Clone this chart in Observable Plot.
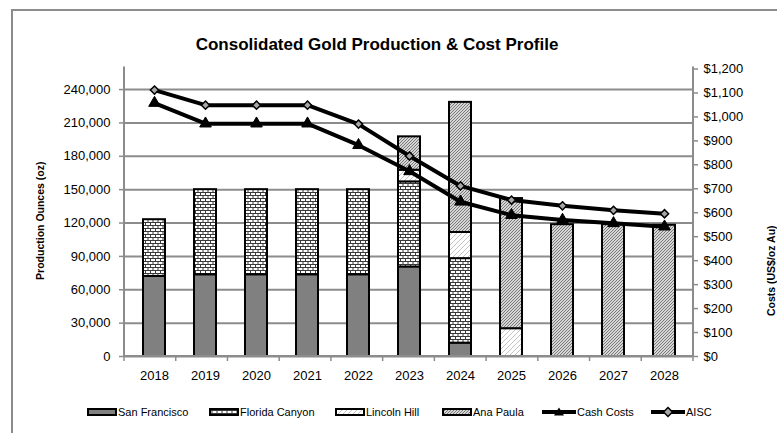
<!DOCTYPE html>
<html><head><meta charset="utf-8">
<script src="https://cdn.jsdelivr.net/npm/d3@7"></script>
<script src="https://cdn.jsdelivr.net/npm/@observablehq/plot@0.6"></script>
<style>
body{margin:0;background:#fff;}
#wrap{position:relative;width:777px;height:433px;overflow:hidden;font-family:"Liberation Sans",Arial,sans-serif;background:#fff;}
#border{position:absolute;left:11px;top:9px;width:900px;height:600px;border:2px solid #8c8c8c;box-sizing:border-box;}
#chart{position:absolute;left:0;top:0;}
.li{position:absolute;top:405px;height:14px;display:flex;align-items:center;font-size:11px;color:#000;white-space:nowrap;}
.li svg{display:block;margin-right:1px;}
</style></head>
<body>
<svg width="0" height="0" style="position:absolute">
  <defs>
    <pattern id="fcPat" patternUnits="userSpaceOnUse" width="5" height="6">
      <rect width="5" height="6" fill="#fff"/>
      <path d="M0 0.5H5M0 3.5H5M0.5 0V3M3 3V6" stroke="#3a3a3a" stroke-width="1" fill="none"/>
    </pattern>
    <pattern id="lhPat" patternUnits="userSpaceOnUse" width="5" height="5">
      <rect width="5" height="5" fill="#fff"/>
      <path d="M0 5L5 0M-1 1L1 -1M4 6L6 4" stroke="#c4c4c4" stroke-width="1" fill="none"/>
    </pattern>
    <pattern id="apPat" patternUnits="userSpaceOnUse" width="3" height="3">
      <rect width="3" height="3" fill="#d6d6d6"/>
      <path d="M0 3L3 0M-1 1L1 -1M2 4L4 2" stroke="#6e6e6e" stroke-width="0.9" fill="none"/>
    </pattern>
  </defs>
</svg>
<div id="wrap"><div id="border"></div><div id="chart"></div><div id="legend"></div></div>
<script>
// ---- data ----
const years = ["2018","2019","2020","2021","2022","2023","2024","2025","2026","2027","2028"];
const sanFrancisco  = [72000, 73500, 73500, 73500, 73500, 80500, 12000, 0, 0, 0, 0];
const floridaCanyon = [51000, 76500, 76500, 76500, 76500, 76500, 76000, 0, 0, 0, 0];
const lincolnHill   = [0, 0, 0, 0, 0, 10500, 23500, 25000, 0, 0, 0];
const anaPaula      = [0, 0, 0, 0, 0, 30000, 117000, 117000, 118500, 118500, 118000];
const cashCosts     = [1058, 972, 972, 972, 882, 773, 646, 590, 570, 556, 542];
const aiscCosts     = [1112, 1049, 1049, 1049, 970, 837, 712, 653, 629, 610, 596];
const seriesNames   = ["San Francisco", "Florida Canyon", "Lincoln Hill", "Ana Paula"];
const lineNames     = ["Cash Costs", "AISC"];
const ozTicks       = [0, 30000, 60000, 90000, 120000, 150000, 180000, 210000, 240000];
const costTicks     = [0, 100, 200, 300, 400, 500, 600, 700, 800, 900, 1000, 1100, 1200];
const titleText     = "Consolidated Gold Production & Cost Profile";
const yTitle        = "Production Ounces (oz)";
const y2Title       = "Costs (US$/oz Au)";

// ---- scales / derived tables ----
const ozMax = 258500, costMax = 1200;
const k = ozMax / costMax;
const seriesFills = ["#808080", "url(#fcPat)", "url(#lhPat)", "url(#apPat)"];
const seriesValues = [sanFrancisco, floridaCanyon, lincolnHill, anaPaula];
const barData = [];
years.forEach((yr, i) => seriesNames.forEach((s, j) => {
  if (seriesValues[j][i] > 0) barData.push({year: yr, series: s, oz: seriesValues[j][i]});
}));
const costData = years.map((yr, i) => ({year: yr, cash: cashCosts[i], aisc: aiscCosts[i]}));

const axisGray = "#8c8c8c";
function axisFrame(index, scales, values, dims) {
  const {width, height, marginLeft, marginRight, marginTop, marginBottom} = dims;
  const x0 = marginLeft, x1 = width - marginRight, yt = marginTop - 2, yb = height - marginBottom;
  const g = d3.create("svg:g").attr("stroke", axisGray).attr("stroke-width", 2).attr("fill", "none");
  g.append("path").attr("d", `M${x0},${yt}V${yb}H${x1}V${yt}`);
  const step = (x1 - x0) / years.length;
  for (let i = 0; i <= years.length; i++) {
    g.append("line").attr("x1", x0 + i * step).attr("x2", x0 + i * step)
      .attr("y1", yb).attr("y2", yb + 5).attr("stroke-width", 1.5);
  }
  return g.node();
}

const chart = Plot.plot({
  width: 777, height: 433,
  marginLeft: 124, marginRight: 84, marginTop: 68.5, marginBottom: 77,
  style: {fontFamily: '"Liberation Sans", Arial, sans-serif', fontSize: "13px", background: "transparent", overflow: "visible"},
  x: {type: "band", domain: years, paddingInner: 0.57, paddingOuter: 0.285, align: 0.5},
  y: {domain: [0, ozMax]},
  color: {type: "ordinal", domain: seriesNames, range: seriesFills},
  marks: [
    Plot.gridY(ozTicks, {stroke: axisGray, strokeOpacity: 1, strokeWidth: 2}),
    Plot.barY(barData, {x: "year", y: "oz", fill: "series", stroke: "#000", strokeWidth: 2, order: seriesNames}),
    axisFrame,
    Plot.axisY(ozTicks, {anchor: "left", tickSize: 5, tickPadding: 9, tickFormat: d3.format(","), stroke: axisGray, fill: "#000", strokeWidth: 1.5, label: null}),
    Plot.axisY(costTicks.map(c => c * k), {anchor: "right", tickSize: 4, tickPadding: 6, tickFormat: d => "$" + d3.format(",")(Math.round(d / k)), stroke: axisGray, fill: "#000", strokeWidth: 1.5, label: null}),
    Plot.axisX({tickSize: 0, tickPadding: 14, label: null}),
    Plot.line(costData, {x: "year", y: d => d.cash * k, stroke: "#000", strokeWidth: 4}),
    Plot.line(costData, {x: "year", y: d => d.aisc * k, stroke: "#000", strokeWidth: 4}),
    Plot.dot(costData, {x: "year", y: d => d.cash * k, symbol: "triangle", r: 4.3, fill: "#000", stroke: "#000", strokeWidth: 1}),
    Plot.dot(costData, {x: "year", y: d => d.aisc * k, symbol: "diamond2", r: 3.7, fill: "#a6a6a6", stroke: "#000", strokeWidth: 1.5}),
    Plot.text([titleText], {frameAnchor: "top", dx: -32, dy: -31, fontSize: 17, fontWeight: "bold"}),
    Plot.text([yTitle], {frameAnchor: "left", textAnchor: "middle", dx: -84, dy: 8, rotate: -90, fontSize: 10.5, fontWeight: "bold"}),
    Plot.text([y2Title], {frameAnchor: "right", textAnchor: "middle", dx: 78, dy: 58, rotate: -90, fontSize: 10.5, fontWeight: "bold"})
  ]
});
document.getElementById("chart").appendChild(chart);

// ---- legend ----
const legendLeft = [87, 209, 335, 442, 542, 651];
const legend = document.getElementById("legend");
const items = seriesNames.map((s, i) => ({name: s, kind: "rect", fill: seriesFills[i]}))
  .concat(lineNames.map((s, i) => ({name: s, kind: "line", sym: i === 0 ? "tri" : "dia"})));
items.forEach((it, i) => {
  const div = document.createElement("div");
  div.className = "li";
  div.style.left = legendLeft[i] + "px";
  let sw;
  if (it.kind === "rect") {
    sw = `<svg width="30" height="10"><rect x="1" y="2" width="28" height="6" fill="${it.fill}" stroke="#000" stroke-width="2"/></svg>`;
  } else {
    const m = it.sym === "tri"
      ? `<path d="M17,1.5L22,9.5H12Z" fill="#000"/>`
      : `<path d="M17,1.5L21.5,6L17,10.5L12.5,6Z" fill="#a6a6a6" stroke="#000" stroke-width="1.5"/>`;
    sw = `<svg width="34" height="12"><line x1="0" x2="34" y1="6" y2="6" stroke="#000" stroke-width="4"/>${m}</svg>`;
  }
  div.innerHTML = sw + `<span>${it.name}</span>`;
  legend.appendChild(div);
});
</script>
</body></html>
